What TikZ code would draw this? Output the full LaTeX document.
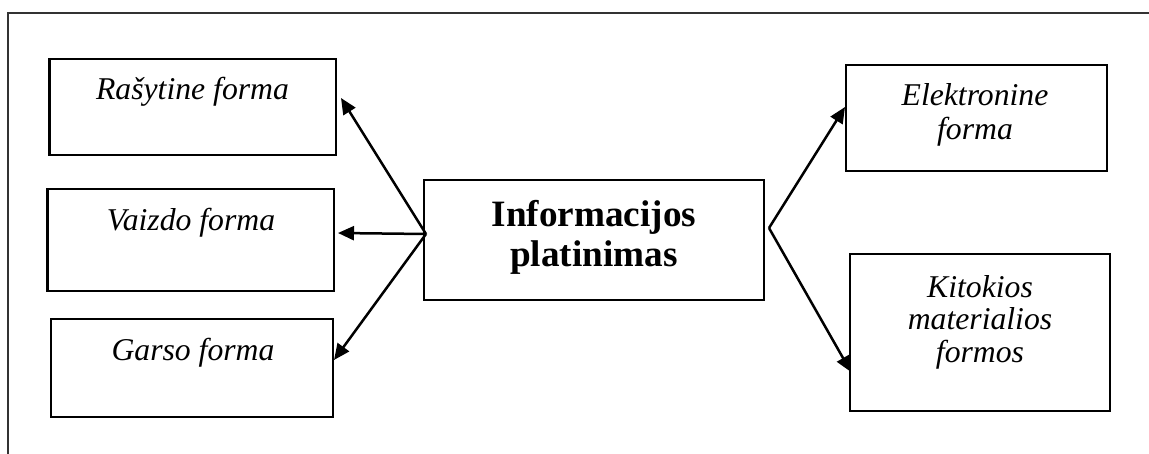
\documentclass[tikz,border=0pt]{standalone}
\usepackage{fontspec}
\setmainfont{Liberation Serif}
\usetikzlibrary{arrows.meta,calc}
\begin{document}
\begin{tikzpicture}[x=0.5pt,y=-0.5pt,
  box/.style={draw=black,line width=1.25pt,inner sep=0pt,outer sep=0pt},
  lbl/.style={inner sep=0pt,anchor=base,align=center,font=\fontsize{15.85}{17}\selectfont\itshape},
  title/.style={inner sep=0pt,anchor=base,align=center,font=\fontsize{18.6}{20}\selectfont\bfseries},
  conn/.style={line width=1.25pt,-{Triangle[length=8pt,width=7pt]}},
  frame/.style={line width=1.1pt,draw=black!80}]
\useasboundingbox (0,0) rectangle (1149,454);
\draw[frame] (8,454) -- (8,13) -- (1149,13);
% boxes
\node[box,minimum width=143.25pt,minimum height=48pt] (ras) at (192.75,107) {};
\node[box,minimum width=143.25pt,minimum height=51pt] (vai) at (190.75,240) {};
\node[box,minimum width=141pt,minimum height=49pt] (gar) at (192,368) {};
\node[box,minimum width=170pt,minimum height=60pt] (cen) at (594,240) {};
\node[box,minimum width=130.5pt,minimum height=53pt] (ele) at (976.5,118) {};
\node[box,minimum width=130pt,minimum height=78.5pt] (kit) at (980,332.5) {};
% texts
\node[lbl] (tras) at (192.5,100) {Rašytine forma};
\node[lbl] (tvai) at (191,230) {Vaizdo forma};
\node[lbl] (tgar) at (193,360) {Garso forma};
\node[title] (tcen1) at (594,226.7) {Informacijos};
\node[title] (tcen2) at (594,266.7) {platinimas};
\node[lbl] (tele1) at (975,106) {Elektronine};
\node[lbl] (tele2) at (975,140) {forma};
\node[lbl] (tkit1) at (980,297) {Kitokios};
\node[lbl] (tkit2) at (980,329.5) {materialios};
\node[lbl] (tkit3) at (980,362) {formos};
% connectors
\coordinate (fl) at ($(cen.west)+(2,-6)$);
\coordinate (fr) at ($(cen.east)+(5,-12)$);
\draw[conn] (fl) -- ($(ras.east)+(5,-9)$);
\draw[conn] (fl) -- ($(vai.east)+(4,-7)$);
\draw[conn] (fl) -- ($(gar.east)+(1,-8)$);
\draw[conn] (fr) -- ($(ele.west)+(-1,-11)$);
\draw[conn] (fr) -- ($(kit.west)+(1,39.5)$);
\end{tikzpicture}
\end{document}
